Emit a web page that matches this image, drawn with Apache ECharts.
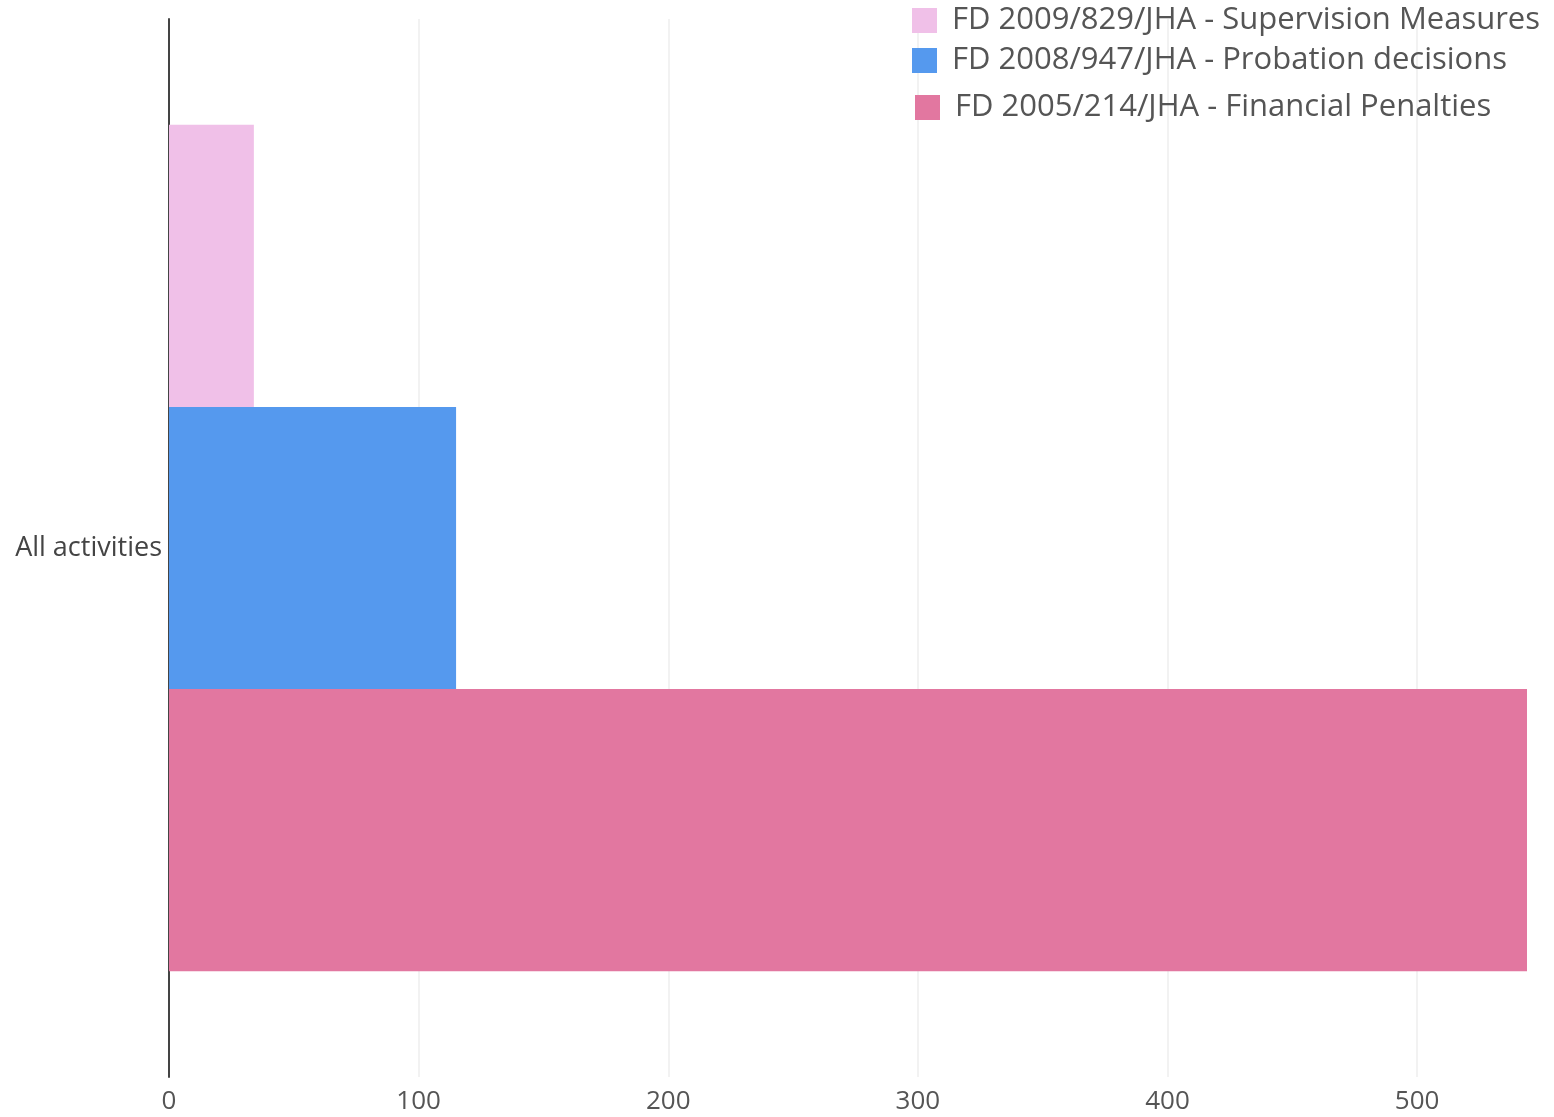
<!DOCTYPE html>
<html>
<head>
<meta charset="utf-8">
<script src="https://cdn.jsdelivr.net/npm/echarts@6/dist/echarts.min.js"></script>
<style>html,body{margin:0;padding:0;background:#fff}#c{width:1554px;height:1117px}</style>
</head>
<body>
<div id="c"></div>
<script>
const categories = ['All activities'];
const seriesNames = [
  'FD 2009/829/JHA - Supervision Measures',
  'FD 2008/947/JHA - Probation decisions',
  'FD 2005/214/JHA - Financial Penalties'
];
const supervisionValues = [34];
const probationValues = [115];
const financialValues = [544];
const xTicks = [0, 100, 200, 300, 400, 500];
const colors = ['#F0C0E8', '#5599EE', '#E277A0'];

const chart = echarts.init(document.getElementById('c'));
const font = 'Open Sans';
const legendBase = {
  orient: 'vertical', itemWidth: 25, itemHeight: 25, icon: 'rect', padding: 0,
  textStyle: { fontFamily: font, fontSize: 31, color: '#555', padding: [0, 0, 0, 10] },
  selectedMode: false
};
chart.setOption({
  animation: false,
  textStyle: { fontFamily: font },
  legend: [
    Object.assign({ left: 912, top: 5, data: [seriesNames[0]] }, legendBase),
    Object.assign({ left: 912, top: 45, data: [seriesNames[1]] }, legendBase),
    Object.assign({ left: 915, top: 92, data: [seriesNames[2]] }, legendBase)
  ],
  grid: { left: 169, right: 27, top: 19, bottom: 40, containLabel: false },
  xAxis: {
    type: 'value', min: 0, max: 544, interval: 100,
    axisLine: { show: false }, axisTick: { show: false },
    splitLine: { show: true, showMaxLine: false, lineStyle: { color: '#eeeeee', width: 1.5 } },
    axisLabel: {
      fontFamily: font, fontSize: 26, color: '#555', margin: 12, showMaxLabel: false,
      formatter: v => xTicks.indexOf(v) >= 0 ? String(v) : ''
    }
  },
  yAxis: {
    type: 'category', data: categories,
    axisLine: { show: true, lineStyle: { color: '#444', width: 2 } },
    axisTick: { show: false },
    axisLabel: { fontFamily: font, fontSize: 27, color: '#444', margin: 7 }
  },
  series: [
    { name: seriesNames[0], type: 'bar', data: supervisionValues, itemStyle: { color: colors[0] }, barGap: '0%', barCategoryGap: '20%' },
    { name: seriesNames[1], type: 'bar', data: probationValues, itemStyle: { color: colors[1] }, barGap: '0%', barCategoryGap: '20%' },
    { name: seriesNames[2], type: 'bar', data: financialValues, itemStyle: { color: colors[2] }, barGap: '0%', barCategoryGap: '20%' }
  ]
});
</script>
</body>
</html>
